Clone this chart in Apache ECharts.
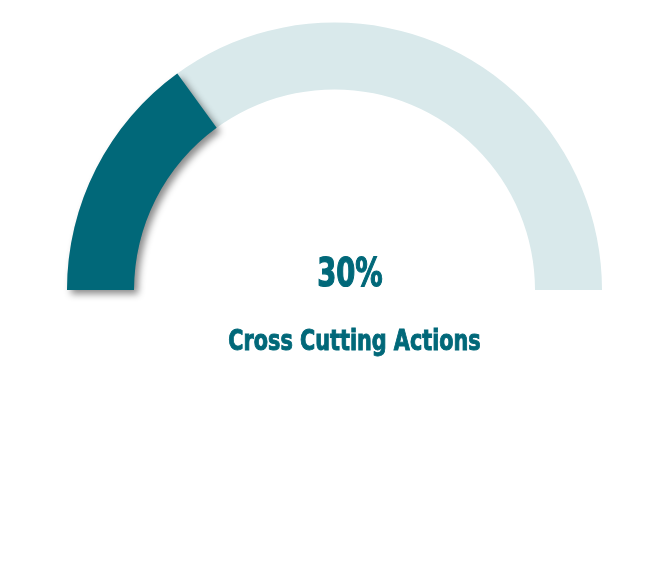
<!DOCTYPE html>
<html><head><meta charset="utf-8">
<script src="https://cdn.jsdelivr.net/npm/echarts@6/dist/echarts.min.js"></script>
<style>html,body{margin:0;padding:0;background:#fff}#c{width:669px;height:581px}</style>
</head><body><div id="c"></div>
<script>
const categories = ['Cross Cutting Actions'];
const values = [30];
const scaleMin = 0;
const scaleMax = 100;

const textColor = '#016879';
const chart = echarts.init(document.getElementById('c'), null, {renderer: 'canvas'});
chart.setOption({
  backgroundColor: '#ffffff',
  animation: false,
  graphic: [
    {type: 'text', x: 350, y: 275.5, scaleX: 0.8, scaleY: 1.04,
      style: {text: values[0] + '%', fill: textColor, stroke: textColor, lineWidth: 1.2,
        align: 'center', verticalAlign: 'middle',
        font: 'bold 38px "DejaVu Sans Condensed"'}},
    {type: 'text', x: 354.5, y: 343, scaleX: 0.855, scaleY: 1.02,
      style: {text: categories[0], fill: textColor, stroke: textColor, lineWidth: 0.9,
        align: 'center', verticalAlign: 'middle',
        font: 'bold 27px "DejaVu Sans Condensed"'}}
  ],
  series: [{
    type: 'gauge',
    center: [334.5, 290],
    radius: 267.5,
    startAngle: 180,
    endAngle: 0,
    min: scaleMin,
    max: scaleMax,
    axisLine: {lineStyle: {width: 67, color: [[1, '#d9e9eb']]}},
    progress: {show: true, width: 67, roundCap: false,
      itemStyle: {color: '#016879', shadowColor: 'rgba(0,0,0,0.45)', shadowBlur: 7, shadowOffsetX: 4, shadowOffsetY: 4}},
    pointer: {show: false},
    anchor: {show: false},
    axisTick: {show: false},
    splitLine: {show: false},
    axisLabel: {show: false},
    title: {show: false},
    detail: {show: false},
    data: categories.map((n, i) => ({name: n, value: values[i]}))
  }]
});
</script></body></html>
